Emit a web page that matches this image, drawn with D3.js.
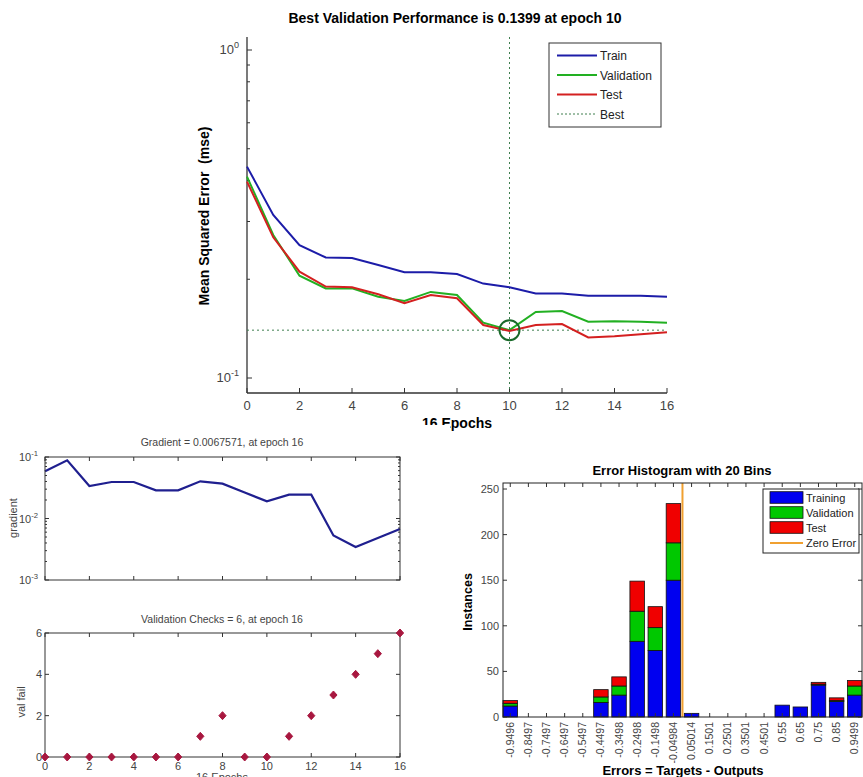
<!DOCTYPE html>
<html>
<head>
<meta charset="utf-8">
<script src="https://cdn.jsdelivr.net/npm/d3@7"></script>
<style>
  body { margin: 0; background: #fff; }
  text { font-family: "Liberation Sans", Arial, sans-serif; }
</style>
</head>
<body>
<div id="chart"></div>
<script>
// performance per epoch (mse, log scale)
const epochs = [0, 1, 2, 3, 4, 5, 6, 7, 8, 9, 10, 11, 12, 13, 14, 15, 16];
const trainPerf = [0.441, 0.314, 0.254, 0.233, 0.232, 0.221, 0.210, 0.210, 0.2075, 0.194, 0.189, 0.181, 0.181, 0.178, 0.178, 0.178, 0.177];
const valPerf = [0.411, 0.273, 0.205, 0.1876, 0.1876, 0.177, 0.1717, 0.183, 0.179, 0.1475, 0.1399, 0.159, 0.160, 0.1485, 0.149, 0.1485, 0.1475];
const testPerf = [0.397, 0.2685, 0.211, 0.190, 0.189, 0.180, 0.169, 0.179, 0.175, 0.145, 0.139, 0.145, 0.146, 0.133, 0.134, 0.136, 0.1378];
const bestEpoch = 10;
const bestPerf = 0.1399;

// training state
const gradient = [0.0585, 0.0883, 0.0338, 0.0392, 0.0392, 0.0287, 0.0287, 0.0402, 0.0368, 0.0265, 0.019, 0.0244, 0.0244, 0.0053, 0.00344, 0.0048, 0.0067571];
const valFail = [0, 0, 0, 0, 0, 0, 0, 1, 2, 0, 0, 1, 2, 3, 4, 5, 6];
const epochTicks = [0, 2, 4, 6, 8, 10, 12, 14, 16];

// error histogram
const binLabels = ["-0.9496", "-0.8497", "-0.7497", "-0.6497", "-0.5497", "-0.4497", "-0.3498", "-0.2498", "-0.1498", "-0.04984",
  "0.05014", "0.1501", "0.2501", "0.3501", "0.4501", "0.55", "0.65", "0.75", "0.85", "0.9499"];
const binCenters = binLabels.map(Number);
const histTrain = [12, 0, 0, 0, 0, 16, 24, 83, 73, 150, 4, 0, 0, 0, 0, 13, 11, 35, 17, 24];
const histVal = [3, 0, 0, 0, 0, 6, 10, 33, 25, 41, 0, 0, 0, 0, 0, 0, 0, 1, 1, 10];
const histTest = [3, 0, 0, 0, 0, 8, 10, 33, 23, 43, 0, 0, 0, 0, 0, 0, 0, 2, 3, 6];
const histTicks = [0, 50, 100, 150, 200, 250];

const axisColor = "#333";
const labelColor = "#444";

const svg = d3.select("#chart")
  .append("svg")
  .attr("width", 863)
  .attr("height", 777);

svg.append("rect").attr("width", 863).attr("height", 777).attr("fill", "#fff");

// helper: "10" with superscript exponent
function powLabel(g, x, y, exp, size) {
  const t = g.append("text")
    .attr("x", x).attr("y", y)
    .attr("text-anchor", "end")
    .attr("fill", labelColor)
    .style("font-size", size + "px");
  t.append("tspan").text("10");
  t.append("tspan").attr("dy", -size * 0.45).style("font-size", (size * 0.7) + "px").text(exp);
}

// ---------------- performance plot ----------------
{
  const left = 247, right = 667, top = 37, bottom = 393;
  const x = d3.scaleLinear().domain([0, 16]).range([left, right]);
  const y = d3.scaleLog().domain([0.1, 1]).range([378, 50]);
  y.domain([y.invert(bottom), y.invert(top)]).range([bottom, top]);

  const g = svg.append("g");

  g.append("text")
    .attr("x", 455).attr("y", 23)
    .attr("text-anchor", "middle")
    .style("font-size", "14px").style("font-weight", "bold")
    .text("Best Validation Performance is 0.1399 at epoch 10");

  // axes
  g.append("line").attr("x1", left).attr("x2", left).attr("y1", top).attr("y2", bottom)
    .attr("stroke", axisColor).attr("stroke-width", 1.3);
  g.append("line").attr("x1", left).attr("x2", right).attr("y1", bottom).attr("y2", bottom)
    .attr("stroke", axisColor).attr("stroke-width", 1.3);

  g.selectAll(".xt").data(epochTicks).enter().append("line")
    .attr("x1", d => x(d)).attr("x2", d => x(d))
    .attr("y1", bottom).attr("y2", bottom - 5)
    .attr("stroke", axisColor);
  g.selectAll(".xl").data(epochTicks).enter().append("text")
    .attr("x", d => x(d)).attr("y", 410)
    .attr("text-anchor", "middle")
    .attr("fill", labelColor)
    .style("font-size", "13px")
    .text(d => d);

  const yTicks = y.ticks().filter(d => d >= 0.1 && d <= 1);
  g.selectAll(".yt").data(yTicks).enter().append("line")
    .attr("x1", left).attr("x2", d => left + (d === 0.1 || d === 1 ? 5 : 3))
    .attr("y1", d => y(d)).attr("y2", d => y(d))
    .attr("stroke", axisColor);
  powLabel(g, 239, y(1) + 4, "0", 13);
  powLabel(g, 239, y(0.1) + 4, "-1", 13);

  g.append("text")
    .attr("transform", `translate(209,216) rotate(-90)`)
    .attr("text-anchor", "middle")
    .style("font-size", "14px").style("font-weight", "bold")
    .style("white-space", "pre")
    .text("Mean Squared Error  (mse)");

  g.append("text")
    .attr("x", x(8)).attr("y", 428)
    .attr("text-anchor", "middle")
    .style("font-size", "14px").style("font-weight", "bold")
    .text("16 Epochs");

  // best markers
  g.append("line").attr("x1", x(bestEpoch)).attr("x2", x(bestEpoch)).attr("y1", top).attr("y2", bottom)
    .attr("stroke", "#3f7f4f").attr("stroke-dasharray", "2,3");
  g.append("line").attr("x1", left).attr("x2", right).attr("y1", y(bestPerf)).attr("y2", y(bestPerf))
    .attr("stroke", "#3f7f4f").attr("stroke-dasharray", "2,3");

  const line = d3.line().x((d, i) => x(epochs[i])).y(d => y(d));
  const series = [
    { name: "Train", values: trainPerf, color: "#1c1ca8" },
    { name: "Validation", values: valPerf, color: "#22b022" },
    { name: "Test", values: testPerf, color: "#d42020" }
  ];
  // red drawn over green, as in the reference
  [series[1], series[2], series[0]].forEach(s => {
    g.append("path").datum(s.values)
      .attr("d", line)
      .attr("fill", "none")
      .attr("stroke", s.color)
      .attr("stroke-width", 2);
  });

  g.append("circle")
    .attr("cx", x(bestEpoch)).attr("cy", y(bestPerf)).attr("r", 10)
    .attr("fill", "none").attr("stroke", "#1a6a2a").attr("stroke-width", 2);

  // legend
  const lg = g.append("g");
  lg.append("rect").attr("x", 549).attr("y", 43).attr("width", 112).attr("height", 84)
    .attr("fill", "#fff").attr("stroke", axisColor);
  const items = [
    { name: "Train", color: "#1c1ca8", dash: null, w: 2 },
    { name: "Validation", color: "#22b022", dash: null, w: 2 },
    { name: "Test", color: "#d42020", dash: null, w: 2 },
    { name: "Best", color: "#3f7f4f", dash: "2,2", w: 1 }
  ];
  items.forEach((it, i) => {
    const cy = 55.5 + i * 19.5;
    lg.append("line").attr("x1", 557).attr("x2", 597).attr("y1", cy).attr("y2", cy)
      .attr("stroke", it.color).attr("stroke-width", it.w)
      .attr("stroke-dasharray", it.dash);
    lg.append("text").attr("x", 600).attr("y", cy + 4.5)
      .style("font-size", "12px").attr("fill", "#222")
      .text(it.name);
  });
}

// white backdrop of the lower-left figure (covers bottom of "16 Epochs")
svg.append("rect").attr("x", 0).attr("y", 425).attr("width", 450).attr("height", 352).attr("fill", "#fff");

// ---------------- gradient plot ----------------
{
  const left = 45, right = 400, top = 457, bottom = 580;
  const x = d3.scaleLinear().domain([0, 16]).range([left, right]);
  const y = d3.scaleLog().domain([0.001, 0.1]).range([bottom, top]);
  const g = svg.append("g");

  g.append("text").attr("x", 222).attr("y", 446)
    .attr("text-anchor", "middle").attr("fill", labelColor)
    .style("font-size", "10.5px")
    .text("Gradient = 0.0067571, at epoch 16");

  epochTicks.forEach(d => {
    g.append("line").attr("x1", x(d)).attr("x2", x(d)).attr("y1", bottom).attr("y2", bottom - 4).attr("stroke", axisColor);
    g.append("line").attr("x1", x(d)).attr("x2", x(d)).attr("y1", top).attr("y2", top + 4).attr("stroke", axisColor);
  });
  y.ticks().forEach(d => {
    const major = [0.001, 0.01, 0.1].includes(d);
    const len = major ? 4 : 2;
    g.append("line").attr("x1", left).attr("x2", left + len).attr("y1", y(d)).attr("y2", y(d)).attr("stroke", axisColor);
    g.append("line").attr("x1", right).attr("x2", right - len).attr("y1", y(d)).attr("y2", y(d)).attr("stroke", axisColor);
  });
  powLabel(g, 38, y(0.1) + 4, "-1", 11);
  powLabel(g, 38, y(0.01) + 4, "-2", 11);
  powLabel(g, 38, y(0.001) + 4, "-3", 11);

  g.append("text")
    .attr("transform", "translate(17,518) rotate(-90)")
    .attr("text-anchor", "middle").attr("fill", labelColor)
    .style("font-size", "11px")
    .text("gradient");

  g.append("path").datum(gradient)
    .attr("d", d3.line().x((d, i) => x(epochs[i])).y(d => y(d)))
    .attr("fill", "none").attr("stroke", "#1f1f8f").attr("stroke-width", 2.2);

  g.append("rect").attr("x", left).attr("y", top).attr("width", right - left).attr("height", bottom - top)
    .attr("fill", "none").attr("stroke", axisColor);
}

// ---------------- validation checks ----------------
{
  const left = 45, right = 400, top = 633, bottom = 757;
  const x = d3.scaleLinear().domain([0, 16]).range([left, right]);
  const y = d3.scaleLinear().domain([0, 6]).range([bottom, top]);
  const g = svg.append("g");

  g.append("text").attr("x", 222).attr("y", 623)
    .attr("text-anchor", "middle").attr("fill", labelColor)
    .style("font-size", "10.5px")
    .text("Validation Checks = 6, at epoch 16");

  epochTicks.forEach(d => {
    g.append("line").attr("x1", x(d)).attr("x2", x(d)).attr("y1", bottom).attr("y2", bottom - 4).attr("stroke", axisColor);
    g.append("line").attr("x1", x(d)).attr("x2", x(d)).attr("y1", top).attr("y2", top + 4).attr("stroke", axisColor);
    g.append("text").attr("x", x(d)).attr("y", 770)
      .attr("text-anchor", "middle").attr("fill", labelColor)
      .style("font-size", "11px").text(d);
  });
  [0, 2, 4, 6].forEach(d => {
    g.append("line").attr("x1", left).attr("x2", left + 4).attr("y1", y(d)).attr("y2", y(d)).attr("stroke", axisColor);
    g.append("line").attr("x1", right).attr("x2", right - 4).attr("y1", y(d)).attr("y2", y(d)).attr("stroke", axisColor);
    g.append("text").attr("x", 42).attr("y", y(d) + 4)
      .attr("text-anchor", "end").attr("fill", labelColor)
      .style("font-size", "11px").text(d);
  });

  g.append("text")
    .attr("transform", "translate(25,702) rotate(-90)")
    .attr("text-anchor", "middle").attr("fill", labelColor)
    .style("font-size", "11px")
    .text("val fail");

  // x label sits at the very bottom edge, as in the reference
  g.append("text").attr("x", 222).attr("y", 781)
    .attr("text-anchor", "middle").attr("fill", labelColor)
    .style("font-size", "11px").text("16 Epochs");

  g.append("rect").attr("x", left).attr("y", top).attr("width", right - left).attr("height", bottom - top)
    .attr("fill", "none").attr("stroke", axisColor);

  g.selectAll(".pt").data(valFail).enter().append("path")
    .attr("transform", (d, i) => `translate(${x(epochs[i])},${y(d)})`)
    .attr("d", "M0,-4L3.6,0L0,4L-3.6,0Z")
    .attr("fill", "#a8173f").attr("stroke", "#a8173f");
}

// ---------------- error histogram ----------------
{
  const left = 503, right = 862, top = 483, bottom = 717;
  const x = d3.scaleBand().domain(binLabels).range([left, right]).paddingInner(0.2).paddingOuter(0);
  const y = d3.scaleLinear().domain([0, 256.6]).range([bottom, top]);
  const xVal = d3.scaleLinear()
    .domain([binCenters[0], binCenters[binCenters.length - 1]])
    .range([x(binLabels[0]) + x.bandwidth() / 2, x(binLabels[binLabels.length - 1]) + x.bandwidth() / 2]);
  const g = svg.append("g");

  g.append("text").attr("x", 682).attr("y", 475)
    .attr("text-anchor", "middle")
    .style("font-size", "13px").style("font-weight", "bold")
    .text("Error Histogram with 20 Bins");

  const rows = binLabels.map((b, i) => ({ bin: b, Training: histTrain[i], Validation: histVal[i], Test: histTest[i] }));
  const keys = ["Training", "Validation", "Test"];
  const colors = { Training: "#0000f0", Validation: "#00c800", Test: "#f00000" };
  const stacked = d3.stack().keys(keys)(rows);

  stacked.forEach(layer => {
    g.selectAll(null).data(layer.filter(d => d[1] - d[0] > 0)).enter().append("rect")
      .attr("x", d => x(d.data.bin))
      .attr("width", x.bandwidth())
      .attr("y", d => y(d[1]))
      .attr("height", d => y(d[0]) - y(d[1]))
      .attr("fill", colors[layer.key])
      .attr("stroke", "#111")
      .attr("stroke-width", 0.8);
  });

  // ticks
  binLabels.forEach(b => {
    const cx = x(b) + x.bandwidth() / 2;
    g.append("line").attr("x1", cx).attr("x2", cx).attr("y1", bottom).attr("y2", bottom - 4).attr("stroke", axisColor);
    g.append("line").attr("x1", cx).attr("x2", cx).attr("y1", top).attr("y2", top + 4).attr("stroke", axisColor);
    g.append("text")
      .attr("transform", `translate(${cx + 3.5},722) rotate(-90)`)
      .attr("text-anchor", "end").attr("fill", labelColor)
      .style("font-size", "10.5px").text(b);
  });
  histTicks.forEach(d => {
    g.append("line").attr("x1", left).attr("x2", left + 4).attr("y1", y(d)).attr("y2", y(d)).attr("stroke", axisColor);
    g.append("line").attr("x1", right).attr("x2", right - 4).attr("y1", y(d)).attr("y2", y(d)).attr("stroke", axisColor);
    g.append("text").attr("x", 499).attr("y", y(d) + 4)
      .attr("text-anchor", "end").attr("fill", labelColor)
      .style("font-size", "11px").text(d);
  });

  g.append("line").attr("x1", xVal(0)).attr("x2", xVal(0)).attr("y1", top).attr("y2", bottom)
    .attr("stroke", "#f0a030").attr("stroke-width", 2);

  g.append("rect").attr("x", left).attr("y", top).attr("width", right - left).attr("height", bottom - top)
    .attr("fill", "none").attr("stroke", "#222");

  g.append("text")
    .attr("transform", "translate(472,602) rotate(-90)")
    .attr("text-anchor", "middle")
    .style("font-size", "12.5px").style("font-weight", "bold")
    .text("Instances");

  g.append("text").attr("x", 683).attr("y", 775)
    .attr("text-anchor", "middle")
    .style("font-size", "13px").style("font-weight", "bold")
    .text("Errors = Targets - Outputs");

  // legend
  const lg = g.append("g");
  lg.append("rect").attr("x", 763).attr("y", 489).attr("width", 96).attr("height", 64)
    .attr("fill", "#fff").attr("stroke", "#222");
  keys.forEach((k, i) => {
    const cy = 497.5 + i * 15;
    lg.append("rect").attr("x", 770).attr("y", cy - 5.8).attr("width", 33).attr("height", 11.6)
      .attr("fill", colors[k]).attr("stroke", "#111").attr("stroke-width", 0.8);
    lg.append("text").attr("x", 806).attr("y", cy + 4).style("font-size", "11px").attr("fill", "#222").text(k);
  });
  lg.append("line").attr("x1", 770).attr("x2", 803).attr("y1", 543).attr("y2", 543)
    .attr("stroke", "#f0a030").attr("stroke-width", 2);
  lg.append("text").attr("x", 806).attr("y", 547).style("font-size", "11px").attr("fill", "#222").text("Zero Error");
}
</script>
</body>
</html>
